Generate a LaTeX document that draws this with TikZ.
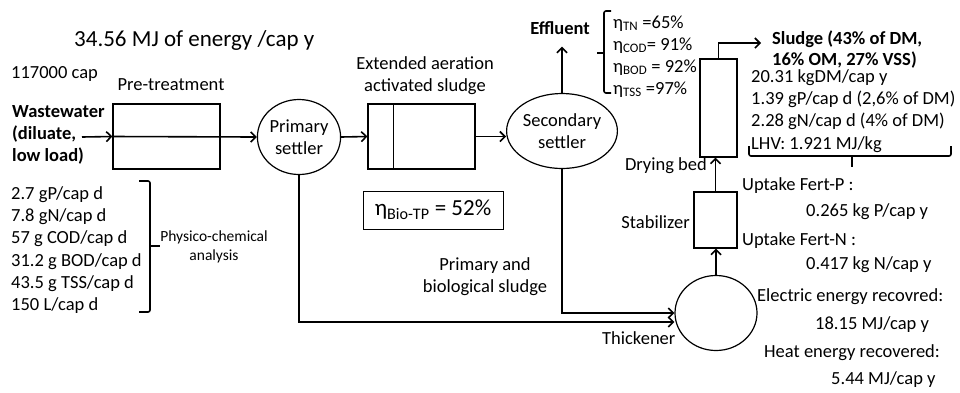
\documentclass[tikz,border=0pt]{standalone}
\usepackage{fontspec}
\setmainfont{Carlito}
\usetikzlibrary{shapes.geometric, arrows.meta, positioning, calc}

\tikzset{
  >={Straight Barb[length=5pt,width=10pt]},
  txt/.style={inner sep=0pt, align=left, font=\fontsize{18.5}{22.3}\selectfont},
  unit/.style={draw, line width=1.2pt, inner sep=0pt},
  settler/.style={draw, ellipse, line width=1.2pt, inner sep=0pt, align=center,
    font=\fontsize{18.5}{22.3}\selectfont},
  flow/.style={line width=1.6pt},
  bracket/.style={line width=1.6pt, rounded corners=2pt}
}

\begin{document}
\begin{tikzpicture}[x=1pt, y=-1pt]
    \useasboundingbox (0,0) rectangle (960,392);

    % Title
    \node[txt, anchor=west, font=\fontsize{23}{27}\selectfont] (title) at (74,40) {34.56 MJ of energy /cap y};
    \node[txt, anchor=west] (pop) at (11,74) {117000 cap};

    % Inlet
    \node[txt, anchor=west, font=\fontsize{18.5}{22.3}\selectfont\bfseries] (ww) at (12,135) {Wastewater\\(diluate,\\low load)};
    \coordinate (wwin) at (82,137);

    \node[txt, anchor=west] (load) at (11,250) {2.7 gP/cap d\\7.8 gN/cap d\\57 g COD/cap d\\31.2 g BOD/cap d\\43.5 g TSS/cap d\\150 L/cap d};
    \draw[bracket] (139,181) -- (150,181) -- (150,312) -- (139,312);
    \draw[flow] (150,246) -- (160,246);
    \node[txt, align=center, font=\fontsize{15.5}{19}\selectfont] (phys) at (214,247) {Physico-chemical\\analysis};

    % Water line
    \node[unit, minimum width=107pt, minimum height=65pt] (pre) at (166.5,136.5) {};
    \node[txt] (prelbl) at (171,85) {Pre-treatment};

    \node[settler, minimum width=82pt, minimum height=75pt] (ps) at (299,137) {Primary\\settler};

    \node[unit, minimum width=107pt, minimum height=65pt] (asl) at (421.5,136.5) {};
    \draw[flow] ([xshift=26pt]asl.north west) -- ([xshift=26pt]asl.south west);
    \node[txt, align=center] (asllbl) at (425,76) {Extended aeration\\activated sludge};

    \node[settler, minimum width=109pt, minimum height=75pt] (ss) at (562,131) {Secondary\\settler};

    \node[txt, font=\fontsize{18.5}{22.3}\selectfont\bfseries] (eff) at (560,28) {Effluent};
    \node[txt, anchor=base west] (etatn) at (613,28) {η\textsubscript{TN} =65\%};
    \node[txt, anchor=base west] (etacod) at (613,50) {η\textsubscript{COD}= 91\%};
    \node[txt, anchor=base west] (etabod) at (613,72) {η\textsubscript{BOD} = 92\%};
    \node[txt, anchor=base west] (etatss) at (613,94) {η\textsubscript{TSS} =97\%};
    \draw[bracket] (611,11) -- (604,11) -- (604,93) -- (611,93);
    \draw[flow] (604,53) -- (597,53);

    \node[unit, minimum width=140pt, minimum height=38pt, line width=1pt, font=\fontsize{23}{27}\selectfont] (bio) at (433,210) {η\textsubscript{Bio-TP} = 52\%};

    \draw[flow,->] (wwin) -- (pre.west);
    \draw[flow,->] (pre.west) -- (ps.west);
    \draw[flow,->] (ps.east) -- (asl.west);
    \draw[flow,->] (asl.east) -- (asl.east -| ss.west);
    \draw[flow,->, shorten >=12pt] (ss.north) -- (ss.north |- eff.south);

    % Sludge line
    \node[settler, minimum width=82pt, minimum height=75pt] (thk) at (716,313) {};
    \node[txt, anchor=west] (thklbl) at (602,338) {Thickener};
    \node[txt, align=center] (mix) at (485,277) {Primary and\\biological sludge};

    \node[unit, minimum width=43pt, minimum height=56pt] (stab) at (715.5,220) {};
    \node[txt, anchor=east] (stablbl) at (690,222) {Stabilizer};

    \node[unit, minimum width=37pt, minimum height=98pt] (dry) at (718.5,108) {};
    \node[txt, anchor=east] (drylbl) at (707,166) {Drying bed};

    \draw[flow,->] (ps.south) |- ([yshift=-9pt]thk.west);
    \draw[flow,->] (ss.south) |- (thk.west);
    \draw[flow,->] (thk.north) -- (thk.north |- stab.south);
    \draw[flow,->] (stab.north) -- (stab.north |- dry.south);

    % Sludge out
    \coordinate (sludgein) at (761,43);
    \draw[flow,->] (dry.north) |- (sludgein);
    \node[txt, anchor=west, font=\fontsize{18.5}{21}\selectfont\bfseries] (sludge) at (772,50) {Sludge (43\% of DM,\\16\% OM, 27\% VSS)};
    \node[txt, anchor=west] (sludgedat) at (751,111) {20.31 kgDM/cap y\\1.39 gP/cap d (2,6\% of DM)\\2.28 gN/cap d (4\% of DM)\\LHV: 1.921 MJ/kg};
    \draw[bracket] (749,146) -- (749,156) -- (951,156) -- (951,146);
    \draw[flow] (852,156) -- (852,167);

    % Recovery
    \node[txt, anchor=west] (fertp) at (742,186) {Uptake Fert-P :};
    \node[txt, anchor=west] (fertpv) at (806,212) {0.265 kg P/cap y};
    \node[txt, anchor=west] (fertn) at (742,241) {Uptake Fert-N :};
    \node[txt, anchor=west] (fertnv) at (806,265) {0.417 kg N/cap y};
    \node[txt, anchor=west] (elec) at (757,297) {Electric energy recovred:};
    \node[txt, anchor=west] (elecv) at (815,325) {18.15 MJ/cap y};
    \node[txt, anchor=west] (heat) at (764,353) {Heat energy recovered:};
    \node[txt, anchor=west] (heatv) at (831,380) {5.44 MJ/cap y};
\end{tikzpicture}
\end{document}
